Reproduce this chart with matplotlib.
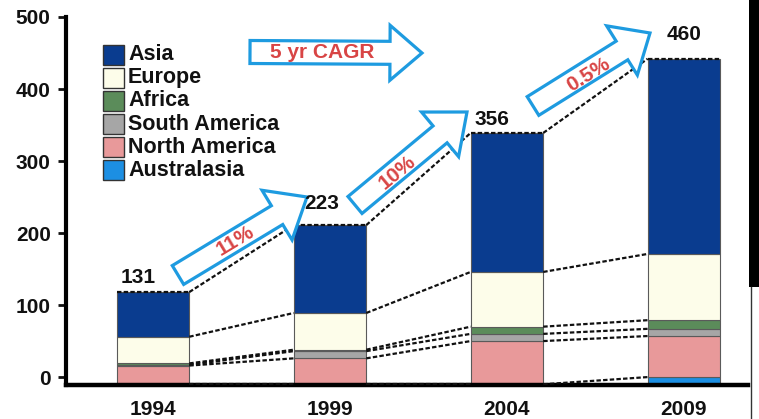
import math
import matplotlib
matplotlib.use("Agg")
import matplotlib.pyplot as plt
from matplotlib.patches import Polygon, Rectangle
from matplotlib.lines import Line2D

# ---------------- data ----------------
years = ['1994', '1999', '2004', '2009']
total_labels = [131, 223, 356, 460]
regions = ['Australasia', 'North America', 'South America', 'Africa', 'Europe', 'Asia']
australasia = [1, 1, 1, 11]
north_america = [26, 36, 60, 57]
south_america = [1, 10, 10, 10]
africa = [2, 2, 10, 12]
europe = [37, 51, 76, 92]
asia = [62, 122, 193, 271]
cagr_labels = ['11%', '10%', '0.5%']
legend_order = ['Asia', 'Europe', 'Africa', 'South America', 'North America', 'Australasia']
yticks = [0, 100, 200, 300, 400, 500]

series = [australasia, north_america, south_america, africa, europe, asia]
colors = {
    'Asia': '#0a3c8f',
    'Europe': '#fdfdea',
    'Africa': '#5b8c5a',
    'South America': '#a6a6a6',
    'North America': '#e8999a',
    'Australasia': '#1c8fe3',
}

W, H = 759, 419
BASE = -11          # axis baseline
BAR_W = 0.41
RED = '#d84545'
BLUE = '#1e9be0'
FONT = 'Liberation Sans'

plt.rcParams['font.family'] = [FONT, 'DejaVu Sans']
plt.rcParams['font.weight'] = 'bold'

fig = plt.figure(figsize=(W / 100, H / 100), dpi=100)
fig.patch.set_facecolor('white')


def P(x, y):
    return (x / W, 1 - y / H)


ax = fig.add_axes([66 / W, 1 - 385 / H, (748 - 66) / W, (385 - 17) / H])
ax.set_xlim(-0.4915, 3.362)
ax.set_ylim(BASE, 500)

x = list(range(len(years)))
bottoms = [BASE] * len(years)
levels = []
for name, vals in zip(regions, series):
    ax.bar(x, vals, width=BAR_W, bottom=bottoms, color=colors[name],
           edgecolor='#5a5a5a', linewidth=0.8, zorder=2)
    bottoms = [b + v for b, v in zip(bottoms, vals)]
    levels.append(list(bottoms))

# dashed connectors between bars at each cumulative level
dash = (0, (2.0, 1.0))
for lev in levels:
    for i in range(len(years) - 1):
        ax.plot([x[i] + BAR_W / 2, x[i + 1] - BAR_W / 2], [lev[i], lev[i + 1]],
                color='#111111', lw=1.6, linestyle=dash, zorder=3)
# dashed line across bar tops
for i in range(len(years)):
    ax.plot([x[i] - BAR_W / 2, x[i] + BAR_W / 2], [levels[-1][i]] * 2,
            color='#111111', lw=1.6, linestyle=dash, zorder=3)

# total labels
label_offsets_px = [(-15, 15), (-8, 22), (-15, 13), (0, 24)]
for i, (t, (dxp, dyp)) in enumerate(zip(total_labels, label_offsets_px)):
    ax.annotate(str(t), xy=(x[i], levels[-1][i]), xytext=(dxp * 0.72, dyp * 0.72),
                textcoords='offset points', ha='center', va='center',
                fontsize=15, fontweight='bold', color='#111111', zorder=8)

# axes styling
for s in ['top', 'right']:
    ax.spines[s].set_visible(False)
ax.spines['left'].set_linewidth(3)
ax.spines['bottom'].set_linewidth(3.2)
ax.set_yticks(yticks)
ax.set_yticklabels([str(v) for v in yticks], fontsize=15, fontweight='bold')
ax.tick_params(axis='y', length=6, width=2, pad=5, colors='#111111')
ax.set_xticks(x)
ax.set_xticklabels(years, fontsize=15, fontweight='bold')
ax.tick_params(axis='x', length=0, pad=11, colors='#111111')


# ---------------- block arrows ----------------
def arrow_poly(tail, tip, bw, hw, hl):
    tx, ty = tail
    px_, py_ = tip
    dx, dy = px_ - tx, py_ - ty
    L = math.hypot(dx, dy)
    ux, uy = dx / L, dy / L
    nx, ny = -uy, ux
    bx, by = tx + ux * (L - hl), ty + uy * (L - hl)
    pts = [
        (tx + nx * bw / 2, ty + ny * bw / 2),
        (bx + nx * bw / 2, by + ny * bw / 2),
        (bx + nx * hw / 2, by + ny * hw / 2),
        (px_, py_),
        (bx - nx * hw / 2, by - ny * hw / 2),
        (bx - nx * bw / 2, by - ny * bw / 2),
        (tx - nx * bw / 2, ty - ny * bw / 2),
    ]
    return [P(a, b) for a, b in pts], math.degrees(math.atan2(-dy, dx))


arrow_specs = [
    # tail, tip, body w, head w, head len, text center
    ((178, 275), (307, 197), 22, 58, 35, (235, 241)),
    ((355, 205), (467, 112), 22, 58, 35, (397, 172)),
    ((533, 106), (650, 33), 22, 58, 33, (588, 75)),
]
for (tail, tip, bw, hw, hl, tc), lab in zip(arrow_specs, cagr_labels):
    pts, ang = arrow_poly(tail, tip, bw, hw, hl)
    ax.add_patch(Polygon(pts, closed=True, transform=fig.transFigure,
                         facecolor='white', edgecolor=BLUE, lw=2.3,
                         zorder=6, clip_on=False))
    ax.text(*P(*tc), lab, transform=fig.transFigure, rotation=ang,
            rotation_mode='anchor', ha='center', va='center', fontsize=15,
            fontweight='bold', color=RED, zorder=9)

pts, ang = arrow_poly((250, 52), (422, 53), 23, 55, 32)
ax.add_patch(Polygon(pts, closed=True, transform=fig.transFigure,
                     facecolor='white', edgecolor=BLUE, lw=2.3,
                     zorder=6, clip_on=False))
ax.text(*P(322, 52), '5 yr CAGR', transform=fig.transFigure, ha='center',
        va='center', fontsize=15, fontweight='bold', color=RED, zorder=9)

# ---------------- legend ----------------
for k, name in enumerate(legend_order):
    cy = 55 + 23 * k
    x0, y0 = P(103, cy + 10)
    fig.add_artist(Rectangle((x0, y0), 21 / W, 20 / H, transform=fig.transFigure,
                             facecolor=colors[name], edgecolor='#333333', lw=1))
    fig.text(*P(128, cy), name, ha='left', va='center', fontsize=15.5,
             fontweight='bold', color='#111111')

# scanned edge on the right
fig.add_artist(Rectangle(P(749, 287), 10 / W, 287 / H, transform=fig.transFigure,
                         facecolor='black', edgecolor='none'))
fig.add_artist(Line2D([750.5 / W, 750.5 / W], [0, 1 - 287 / H], transform=fig.transFigure,
                      color='#333333', lw=1))

fig.savefig('out.png', dpi=100)
